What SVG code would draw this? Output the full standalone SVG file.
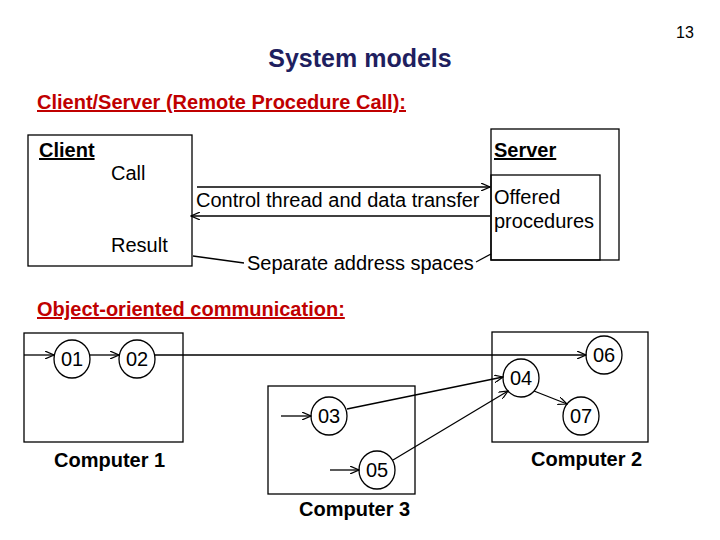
<svg xmlns="http://www.w3.org/2000/svg" width="720" height="540" viewBox="0 0 720 540">
<defs>
<marker id="a" markerWidth="10" markerHeight="8" refX="9" refY="4" orient="auto" markerUnits="userSpaceOnUse"><path d="M0,0 L9,4 L0,8" fill="none" stroke="#000" stroke-width="1.2"/></marker>
</defs>
<style>
text{font-family:"Liberation Sans",Arial,sans-serif;fill:#000}
.b{fill:none;stroke:#000;stroke-width:1.3}
.l{stroke:#000;stroke-width:1.3;fill:none}
.t{font-size:20px}
.bt{font-size:20px;font-weight:bold}
.h{font-size:20px;font-weight:bold;fill:#c00000;text-decoration:underline}
</style>
<rect width="720" height="540" fill="#fff"/>
<text x="685" y="38" font-size="16" text-anchor="middle">13</text>
<text x="360" y="67" font-size="25" font-weight="bold" text-anchor="middle" style="fill:#1f1f5f">System models</text>
<text class="h" x="37" y="109">Client/Server (Remote Procedure Call):</text>
<g id="client"><rect class="b" x="28" y="135" width="164" height="131"/><text class="bt" x="39" y="157" text-decoration="underline">Client</text><text class="t" x="111" y="180">Call</text><text class="t" x="111" y="252">Result</text></g>
<g id="server"><rect class="b" x="491" y="129" width="128" height="131"/><rect class="b" x="491" y="175" width="109" height="85"/><text class="bt" x="494" y="157" text-decoration="underline">Server</text><text class="t" x="494" y="204">Offered</text><text class="t" x="494" y="228">procedures</text></g>
<text class="t" x="196" y="207">Control thread and data transfer</text>
<text class="t" x="247" y="270">Separate address spaces</text>
<text class="h" x="37" y="316">Object-oriented communication:</text>
<g id="computer1"><rect class="b" x="24" y="333" width="159" height="109"/><text class="bt" x="54" y="467">Computer 1</text>
<ellipse class="b" cx="72" cy="359" rx="18" ry="19"/><text class="t" x="72" y="366" text-anchor="middle">01</text>
<ellipse class="b" cx="137" cy="359" rx="18" ry="19"/><text class="t" x="137" y="366" text-anchor="middle">02</text></g>
<g id="computer2"><rect class="b" x="492" y="332" width="156" height="110"/><text class="bt" x="531" y="466">Computer 2</text>
<ellipse class="b" cx="604" cy="355" rx="18" ry="19"/><text class="t" x="604" y="362" text-anchor="middle">06</text>
<ellipse class="b" cx="521" cy="378" rx="18" ry="19"/><text class="t" x="521" y="385" text-anchor="middle">04</text>
<ellipse class="b" cx="581" cy="416" rx="18" ry="19"/><text class="t" x="581" y="423" text-anchor="middle">07</text></g>
<g id="computer3"><rect class="b" x="268" y="386" width="147" height="108"/><text class="bt" x="299" y="516">Computer 3</text>
<ellipse class="b" cx="329" cy="416" rx="18" ry="19"/><text class="t" x="329" y="423" text-anchor="middle">03</text>
<ellipse class="b" cx="377" cy="470" rx="18" ry="19"/><text class="t" x="377" y="477" text-anchor="middle">05</text></g>
<g id="connectors">
<line class="l" x1="197" y1="187" x2="490" y2="187" marker-end="url(#a)"/>
<line class="l" x1="490" y1="216" x2="191" y2="216" marker-end="url(#a)"/>
<line class="l" x1="193" y1="256" x2="244" y2="263"/>
<line class="l" x1="476" y1="262" x2="491" y2="254"/>
<line class="l" x1="24" y1="355" x2="54" y2="355" marker-end="url(#a)"/>
<line class="l" x1="90" y1="355" x2="119" y2="355" marker-end="url(#a)"/>
<line class="l" x1="155" y1="355" x2="586" y2="355" marker-end="url(#a)"/>
<line class="l" x1="281" y1="416" x2="311" y2="416" marker-end="url(#a)" stroke-width="2"/>
<line class="l" x1="330" y1="470" x2="359" y2="470" marker-end="url(#a)"/>
<line class="l" x1="347" y1="409" x2="503" y2="377" marker-end="url(#a)"/>
<line class="l" x1="393" y1="460" x2="508" y2="391" marker-end="url(#a)"/>
<line class="l" x1="534" y1="391" x2="567" y2="404" marker-end="url(#a)"/>
</g>
</svg>
